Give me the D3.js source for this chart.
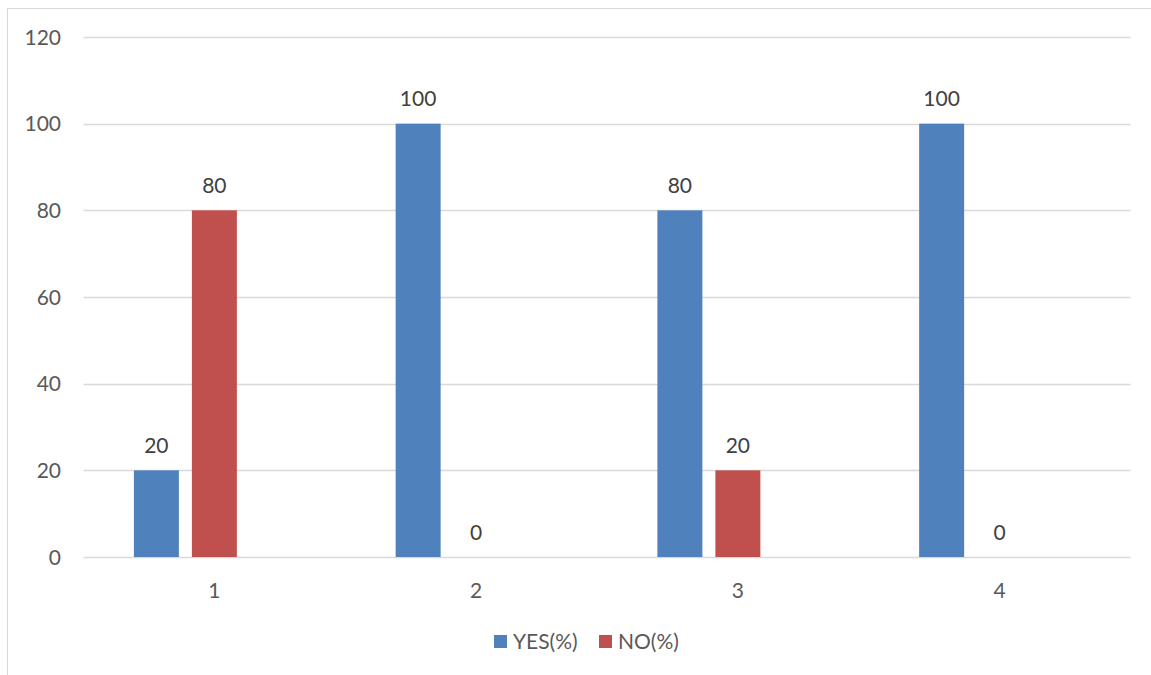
<!DOCTYPE html>
<html><head><meta charset="utf-8">
<script src="https://cdn.jsdelivr.net/npm/d3@7"></script>
<style>body{margin:0;background:#fff;} text{font-family:Lato,"Open Sans",sans-serif;fill:#595959;}</style>
</head><body>
<svg id="c" width="1151" height="675"></svg>
<script>
const categories = ["1","2","3","4"];
const seriesNames = ["YES(%)","NO(%)"];
const yesValues = [20,100,80,100];
const noValues = [80,0,20,0];
const yTicks = [0,20,40,60,80,100,120];
const colors = ["#4F81BD","#C0504D"];

(function(){
const svg = d3.select("#c");
const fs = 21;
// chart border (top and left visible)
svg.append("line").attr("x1",7.5).attr("x2",1151).attr("y1",8.5).attr("y2",8.5).attr("stroke","#d9d9d9");
svg.append("line").attr("x1",7.5).attr("x2",7.5).attr("y1",8.5).attr("y2",675).attr("stroke","#d9d9d9");

const pLeft=83.5, pRight=1130.5, pTop=37, pBottom=557;
const x = d3.scaleBand().domain(categories).range([pLeft,pRight]).padding(0);
const slots = ["YES","NO","_"];
const x1 = d3.scaleBand().domain(slots).range([0,x.bandwidth()]).paddingInner(0.2241).paddingOuter(0.869);
const y = d3.scaleLinear().domain([0,120]).range([pBottom,pTop]);

const g = svg.append("g");
g.selectAll("line.grid").data(yTicks).enter().append("line")
  .attr("x1",pLeft).attr("x2",pRight)
  .attr("y1",d=>Math.round(y(d))+0.5).attr("y2",d=>Math.round(y(d))+0.5)
  .attr("stroke","#d9d9d9").attr("stroke-width",1.3);
g.selectAll("text.yt").data(yTicks).enter().append("text")
  .attr("x",61).attr("y",d=>y(d)).attr("dy","0.36em").attr("text-anchor","end")
  .attr("font-size",fs).text(d=>d);

const data = [];
categories.forEach((c,i)=>{
  data.push({c, s:"YES", v:yesValues[i], col:colors[0]});
  data.push({c, s:"NO", v:noValues[i], col:colors[1]});
});
g.selectAll("rect.bar").data(data).enter().append("rect")
  .attr("x",d=>x(d.c)+x1(d.s)).attr("width",x1.bandwidth())
  .attr("y",d=>y(d.v)).attr("height",d=>pBottom-y(d.v)).attr("fill",d=>d.col);
g.selectAll("text.lbl").data(data).enter().append("text")
  .attr("x",d=>x(d.c)+x1(d.s)+x1.bandwidth()/2).attr("y",d=>y(d.v)-25).attr("dy","0.36em")
  .attr("text-anchor","middle").attr("font-size",fs).style("fill","#404040").text(d=>d.v);

// x axis labels
g.selectAll("text.xt").data(categories).enter().append("text")
  .attr("x",d=>x(d)+x.bandwidth()/2).attr("y",590).attr("dy","0.36em")
  .attr("text-anchor","middle").attr("font-size",fs).text(d=>d);

// legend
const legX=[494,599];
seriesNames.forEach((n,i)=>{
  svg.append("rect").attr("x",legX[i]).attr("y",635).attr("width",13).attr("height",13).attr("fill",colors[i]);
  svg.append("text").attr("x",legX[i]+19).attr("y",641.5).attr("dy","0.36em").attr("font-size",fs).text(n);
});
})();
</script>
</body></html>
